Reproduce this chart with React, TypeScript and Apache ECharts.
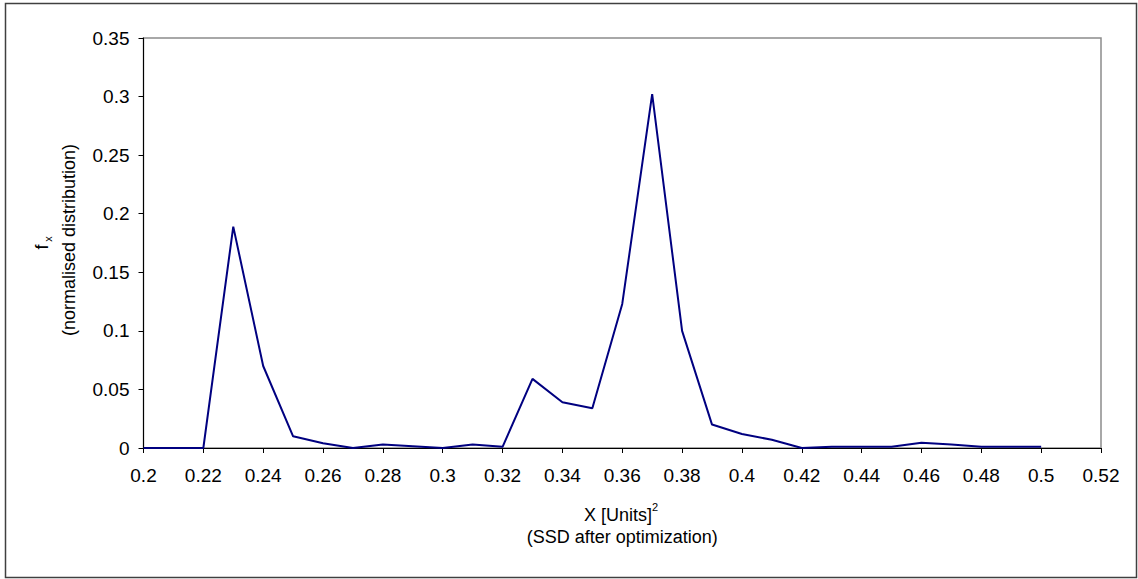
import React, { useEffect, useRef } from "react";
import * as echarts from "echarts";

// SSD values after optimization (bin centres) and their normalised frequency
const xValues = [
  0.2, 0.21, 0.22, 0.23, 0.24, 0.25, 0.26, 0.27, 0.28, 0.29, 0.3, 0.31, 0.32,
  0.33, 0.34, 0.35, 0.36, 0.37, 0.38, 0.39, 0.4, 0.41, 0.42, 0.43, 0.44, 0.45,
  0.46, 0.47, 0.48, 0.49, 0.5,
];
const fValues = [
  0, 0, 0, 0.189, 0.07, 0.01, 0.004, 0, 0.003, 0.0015, 0, 0.003, 0.001,
  0.059, 0.039, 0.034, 0.123, 0.302, 0.1, 0.02, 0.012, 0.007, 0, 0.001, 0.001,
  0.001, 0.0045, 0.003, 0.001, 0.001, 0.001,
];

const xAxisRange = { min: 0.2, max: 0.52, step: 0.02 };
const yAxisRange = { min: 0, max: 0.35, step: 0.05 };

const FONT = '"Liberation Sans", Arial, Helvetica, sans-serif';
const W = 1138;
const H = 579;
const PLOT = { left: 143.5, top: 38, right: 1101, bottom: 448 };

const fmt = (v: number) => String(+v.toFixed(2));

export default function App() {
  const ref = useRef<HTMLDivElement>(null);

  useEffect(() => {
    if (!ref.current) return;
    const chart = echarts.init(ref.current, null, { renderer: "svg" });
    const cx = (PLOT.left + PLOT.right) / 2;

    chart.setOption({
      animation: false,
      backgroundColor: "#ffffff",
      grid: {
        left: PLOT.left,
        top: PLOT.top,
        right: W - PLOT.right,
        bottom: H - PLOT.bottom,
        show: true,
        borderColor: "#8c8c8c",
        borderWidth: 1.5,
        backgroundColor: "#ffffff",
      },
      xAxis: {
        type: "value",
        min: xAxisRange.min,
        max: xAxisRange.max,
        interval: xAxisRange.step,
        axisLine: { show: true, onZero: false, lineStyle: { color: "#000", width: 1 } },
        axisTick: { show: true, inside: false, length: 5, lineStyle: { color: "#000" } },
        splitLine: { show: false },
        axisLabel: {
          color: "#000",
          fontFamily: FONT,
          fontSize: 19,
          margin: 18,
          formatter: fmt,
        },
      },
      yAxis: {
        type: "value",
        min: yAxisRange.min,
        max: yAxisRange.max,
        interval: yAxisRange.step,
        axisLine: { show: true, onZero: false, lineStyle: { color: "#000", width: 1 } },
        axisTick: { show: true, inside: false, length: 5, lineStyle: { color: "#000" } },
        splitLine: { show: false },
        axisLabel: {
          color: "#000",
          fontFamily: FONT,
          fontSize: 19,
          margin: 14,
          formatter: fmt,
        },
      },
      series: [
        {
          type: "line",
          data: xValues.map((x, i) => [x, fValues[i]]),
          showSymbol: false,
          symbol: "none",
          lineStyle: { color: "#000080", width: 2 },
          z: 3,
        },
      ],
      graphic: [
        {
          type: "rect",
          shape: { x: 5.5, y: 3.5, width: 1131, height: 574 },
          style: { fill: "none", stroke: "#404040", lineWidth: 1.5 },
          silent: true,
          z: 0,
        },
        // x-axis title
        {
          type: "text",
          x: 652,
          y: 515,
          style: {
            text: "X [Units]",
            fill: "#000",
            font: `18px ${FONT}`,
            align: "right",
            verticalAlign: "middle",
          },
        },
        {
          type: "text",
          x: 652,
          y: 507,
          style: {
            text: "2",
            fill: "#000",
            font: `11px ${FONT}`,
            align: "left",
            verticalAlign: "middle",
          },
        },
        {
          type: "text",
          x: cx,
          y: 537,
          style: {
            text: "(SSD after optimization)",
            fill: "#000",
            font: `18px ${FONT}`,
            align: "center",
            verticalAlign: "middle",
          },
        },
        // y-axis title (rotated)
        {
          type: "text",
          x: 42,
          y: 247,
          rotation: Math.PI / 2,
          style: {
            text: "f",
            fill: "#000",
            font: `18px ${FONT}`,
            align: "center",
            verticalAlign: "middle",
          },
        },
        {
          type: "text",
          x: 48,
          y: 239,
          rotation: Math.PI / 2,
          style: {
            text: "x",
            fill: "#000",
            font: `11px ${FONT}`,
            align: "center",
            verticalAlign: "middle",
          },
        },
        {
          type: "text",
          x: 69,
          y: 240,
          rotation: Math.PI / 2,
          style: {
            text: "(normalised distribution)",
            fill: "#000",
            font: `18px ${FONT}`,
            align: "center",
            verticalAlign: "middle",
          },
        },
      ],
    });

    return () => chart.dispose();
  }, []);

  return (
    <div
      ref={ref}
      style={{ position: "fixed", left: 0, top: 0, width: W, height: H, background: "#fff" }}
    />
  );
}
